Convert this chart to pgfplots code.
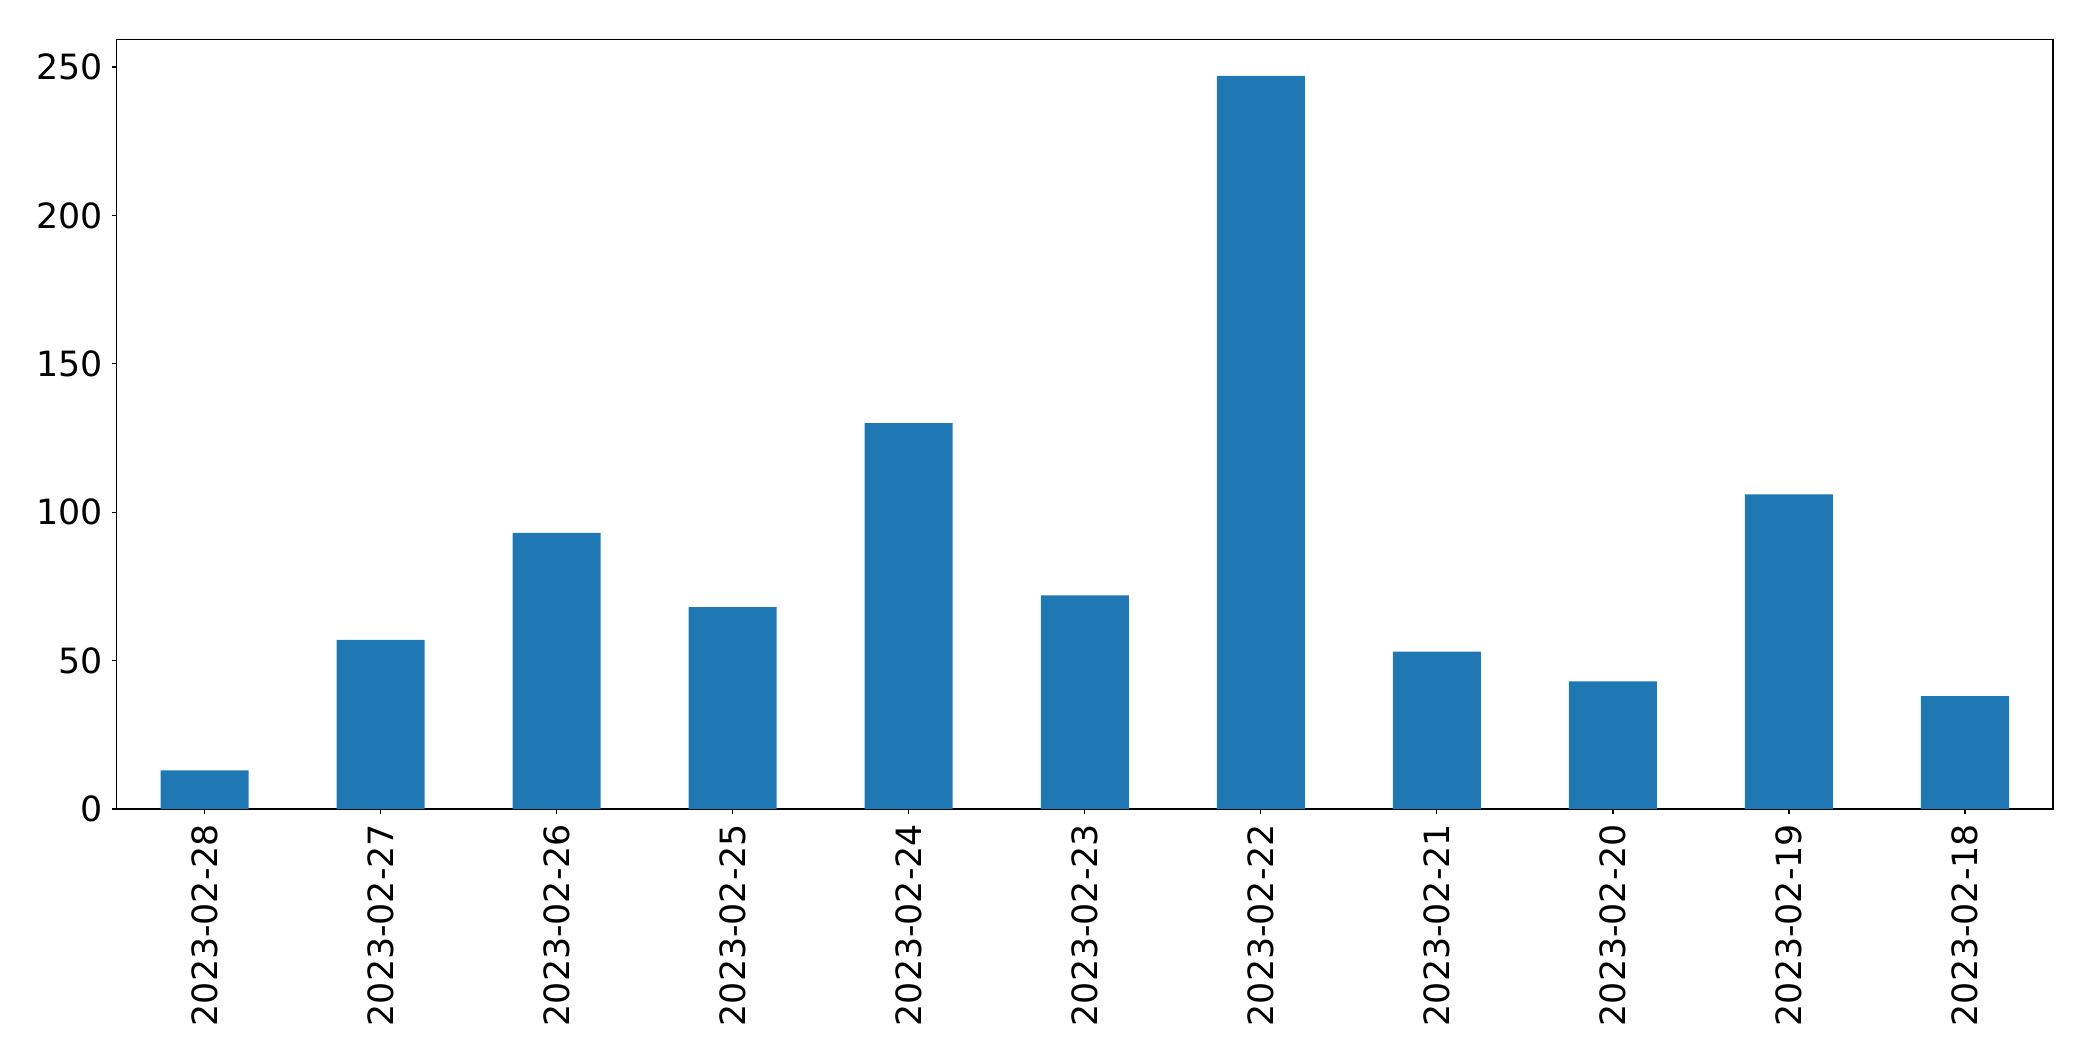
\documentclass[border=0pt]{standalone}
\usepackage{fontspec}
\setmainfont{DejaVu Sans}
\usepackage{pgfplots}
\pgfplotsset{compat=1.18}
\definecolor{mplblue}{HTML}{1F77B4}
\begin{document}
\begin{tikzpicture}
\begin{axis}[
  at={(0,0)}, anchor=south west,
  scale only axis,
  width=968.25bp, height=384.85bp,
  xmin=-0.5, xmax=10.5,
  ymin=0, ymax=259.35,
  xtick={0,...,10},
  xticklabels={2023-02-28,2023-02-27,2023-02-26,2023-02-25,2023-02-24,2023-02-23,2023-02-22,2023-02-21,2023-02-20,2023-02-19,2023-02-18},
  ytick={0,50,100,150,200,250},
  tick pos=left,
  tick align=outside,
  major tick length=2.5bp,
  axis line style={line width=0.6bp},
  every tick/.style={line width=0.6bp, black},
  /pgf/number format/assume math mode=true,
  tick label style={font=\fontsize{17.4bp}{20bp}\selectfont},
  xticklabel style={rotate=90, anchor=east, inner sep=0pt, xshift=-4.8bp},
  yticklabel style={inner sep=0pt, xshift=-4bp},
  scaled y ticks=false,
]
\addplot[ybar, bar width=0.5, fill=mplblue, draw=none, bar shift=0] coordinates {
  (0,13) (1,57) (2,93) (3,68) (4,130) (5,72) (6,247) (7,53) (8,43) (9,106) (10,38)
};
\end{axis}
\pgfresetboundingbox
\path (-58.25bp,-126bp) rectangle (988.25bp,404.5bp);
\end{tikzpicture}
\end{document}
